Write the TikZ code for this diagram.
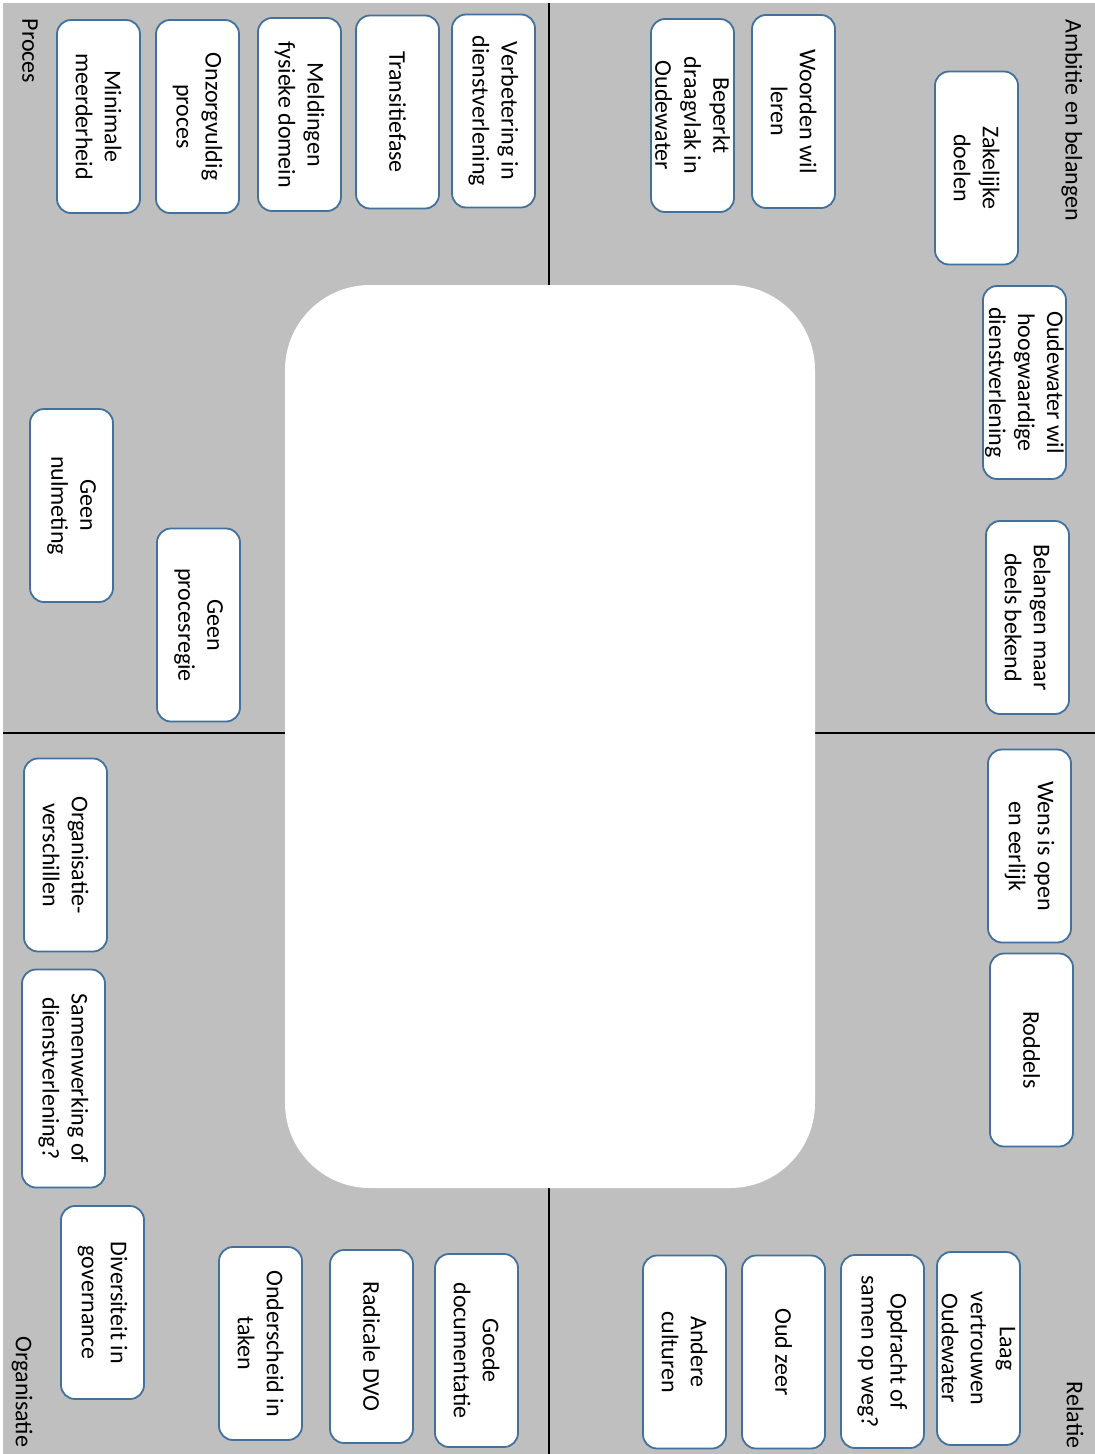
\documentclass[tikz,border=0pt]{standalone}
\usepackage{fontspec}
\setmainfont{Carlito}
\definecolor{bggray}{HTML}{BFBFBF}
\definecolor{boxline}{HTML}{41719C}
\begin{document}
\begin{tikzpicture}[x=1pt,y=1pt,
  card/.style={draw=boxline, line width=1.8pt, fill=white, rounded corners=14pt,
    rotate=-90, minimum width=193pt, minimum height=83pt, inner sep=0pt,
    align=center, font=\fontsize{24}{29}\selectfont},
  tallcard/.style={card, minimum width=218pt},
  corner/.style={rotate=-90, inner sep=0pt, font=\fontsize{24}{29}\selectfont},
  divider/.style={line width=2.6pt, black}]
\useasboundingbox (0,0) rectangle (1095,-1454);
\fill[white] (0,0) rectangle (1095,-1454);
\fill[bggray] (3,-3) rectangle (1095,-1454);
\coordinate (vtop) at (549,-3);
\coordinate (vbot) at (549,-1454);
\coordinate (hleft) at (3,-733);
\coordinate (hright) at (1095,-733);
\draw[divider] (vtop) -- (vbot);
\draw[divider] (hleft) -- (hright);
\node[fill=white, rounded corners=85pt, minimum width=530pt, minimum height=903pt, inner sep=0pt] (center) at (550,-736.5) {};
% corner labels
\node[corner] (lproces) at (30,-51) {Proces};
\node[corner] (lambitie) at (1072,-120) {Ambitie en belangen};
\node[corner] (lrelatie) at (1075,-1415) {Relatie};
\node[corner] (lorg) at (22,-1392) {Organisatie};
% Proces
\node[card] (mm) at (98.5,-116.5) {Minimale\\meerderheid};
\node[card] (op) at (197.5,-116.5) {Onzorgvuldig\\proces};
\node[card] (mfd) at (299.5,-114.5) {Meldingen\\fysieke domein};
\node[card] (tf) at (397.5,-112) {Transitiefase};
\node[card] (vid) at (493.5,-111) {Verbetering in\\dienstverlening};
\node[card] (gn) at (71.5,-505.5) {Geen\\nulmeting};
\node[card] (gp) at (198.5,-625) {Geen\\procesregie};
% Ambitie en belangen
\node[card] (bdo) at (692.5,-115.5) {Beperkt\\draagvlak in\\Oudewater};
\node[card] (wwl) at (793.5,-111.5) {Woorden wil\\leren};
\node[card] (zd) at (976.5,-168) {Zakelijke\\doelen};
\node[card] (owh) at (1024.5,-382.5) {Oudewater wil\\hoogwaardige\\dienstverlening};
\node[card] (bmd) at (1027.5,-617.5) {Belangen maar\\deels bekend};
% Relatie
\node[card] (wio) at (1029.5,-846) {Wens is open\\en eerlijk};
\node[card] (rod) at (1031.5,-1050) {Roddels};
\node[card] (lvo) at (978.5,-1348.5) {Laag\\vertrouwen\\Oudewater};
\node[card] (oos) at (882.5,-1351.5) {Opdracht of\\samen op weg?};
\node[card] (oz) at (783.5,-1352) {Oud zeer};
\node[card] (ac) at (684.5,-1352) {Andere\\culturen};
% Organisatie
\node[card] (gd) at (476.5,-1350.5) {Goede\\documentatie};
\node[card] (rdvo) at (371.5,-1346.5) {Radicale DVO};
\node[card] (oit) at (260.5,-1343.5) {Onderscheid in\\taken};
\node[card] (dig) at (102.5,-1302.5) {Diversiteit in\\governance};
\node[card] (ov) at (65.5,-855) {Organisatie-\\verschillen};
\node[tallcard] (sod) at (63.5,-1078.5) {Samenwerking of\\dienstverlening?};
\end{tikzpicture}
\end{document}
